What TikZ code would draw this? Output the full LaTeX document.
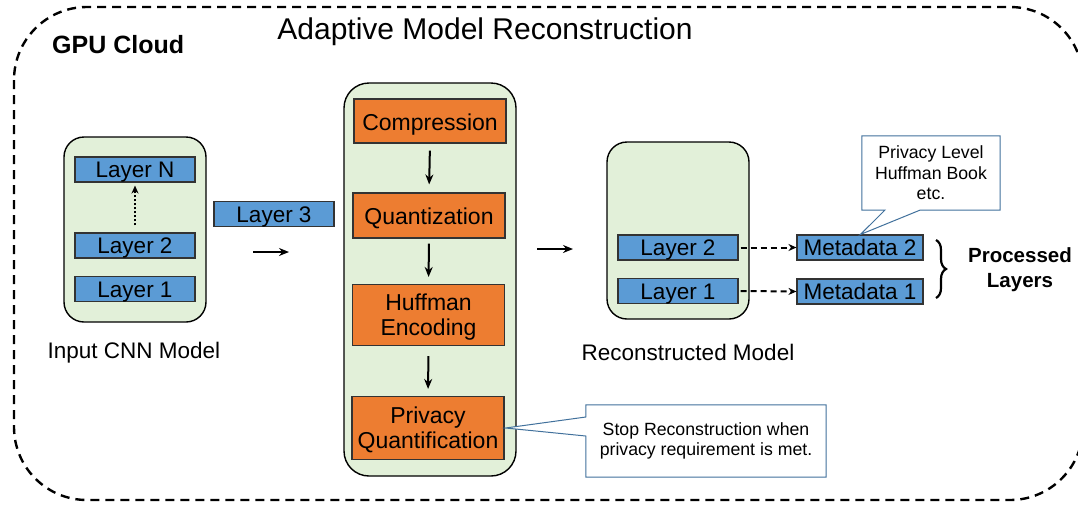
\documentclass[tikz,border=0pt]{standalone}
\usepackage{fontspec}
\setmainfont{Liberation Sans}
\usetikzlibrary{arrows.meta,decorations.pathreplacing,calc}
\definecolor{boxgreen}{HTML}{E2F0D9}
\definecolor{layerblue}{HTML}{5B9BD5}
\definecolor{steporange}{HTML}{ED7D31}
\definecolor{callblue}{HTML}{41719C}
\begin{document}
\begin{tikzpicture}[x=1pt,y=-1pt,
  container/.style={draw=black, line width=1.4pt, fill=boxgreen, rounded corners=20pt, inner sep=0pt},
  layer/.style={draw=black!80, line width=1.1pt, fill=layerblue, font=\fontsize{22.5}{26}\selectfont, inner sep=0pt, minimum height=25pt, text height=20pt, text depth=4pt},
  stepbox/.style={draw=black!80, line width=1.1pt, fill=steporange, font=\fontsize{23}{25}\selectfont, inner sep=0pt, minimum width=152pt, align=center},
  oneline/.style={text height=22pt, text depth=4pt},
  twoline/.style={text depth=0pt},
  calltext/.style={font=\fontsize{17.7}{20.5}\selectfont, align=center, inner sep=0pt},
  callshape/.style={draw=callblue, line width=1pt, fill=white},
  caption/.style={font=\fontsize{22.5}{27}\selectfont, inner sep=0pt},
  flow/.style={-{Stealth[length=10pt,width=8pt]}, line width=2pt},
  dasharrow/.style={-{Stealth[length=8pt,width=7pt]}, line width=2pt, dash pattern=on 6pt off 4pt},
]
\useasboundingbox (0,0) rectangle (1078,504);
\clip (0,0) rectangle (1078,504);
\fill[white] (0,0) rectangle (1078,504);

% outer dashed frame
\draw[line width=2.4pt, dash pattern=on 9pt off 6pt, rounded corners=73pt] (14,7) rectangle (1083,500);

\node[font=\fontsize{30}{36}\selectfont, inner sep=0pt] (title) at (485,32) {Adaptive Model Reconstruction};
\node[font=\bfseries\fontsize{25}{30}\selectfont, inner sep=0pt, anchor=west] (gpu) at (52,45) {GPU Cloud};

% input model
\node[container, minimum width=142pt, minimum height=185pt] (inbox) at (135,229.5) {};
\node[layer, minimum width=120pt] (lN) at (135,169.5) {Layer N};
\node[layer, minimum width=120pt] (l2) at (135,245.5) {Layer 2};
\node[layer, minimum width=120pt] (l1) at (135,289) {Layer 1};
\draw[-{Stealth[length=8pt,width=7pt]}, line width=2pt, dash pattern=on 2pt off 2pt, shorten <=7pt, shorten >=3pt] (l2.north) -- (lN.south);
\node[caption] (incap) at (134,353) {Input CNN Model};

\node[layer, minimum width=120pt] (l3) at (274,214) {Layer 3};
\coordinate (a1s) at (253,252);
\coordinate (a1e) at (289,252);
\draw[flow] (a1s) -- (a1e);

% processing pipeline
\node[container, rounded corners=25pt, minimum width=172pt, minimum height=393pt] (pbox) at (430,279.5) {};
\node[stepbox, oneline, minimum height=44pt] (comp) at (430,121) {Compression};
\node[stepbox, oneline, minimum height=45pt] (quant) at (429,215.5) {Quantization};
\node[stepbox, twoline, minimum height=61pt] (huff) at (428.5,315) {Huffman\\Encoding};
\node[stepbox, twoline, minimum height=63pt] (priv) at (428,428) {Privacy\\Quantification};
\draw[flow, shorten <=7pt, shorten >=8pt] (comp.south) -- (quant.north);
\draw[flow, shorten <=5pt, shorten >=7pt] (quant.south) -- (huff.north);
\draw[flow, shorten <=10pt, shorten >=7pt] (huff.south) -- (priv.north);

\coordinate (a2s) at (537,249);
\coordinate (a2e) at (573,249);
\draw[flow] (a2s) -- (a2e);

% reconstructed model
\node[container, minimum width=142pt, minimum height=177pt] (rbox) at (678,230.5) {};
\node[layer, minimum width=120pt] (r2) at (678,247.5) {Layer 2};
\node[layer, minimum width=120pt] (r1) at (678,291) {Layer 1};
\node[caption] (rcap) at (688,352) {Reconstructed Model};

\node[layer, minimum width=126pt] (m2) at (860,247.5) {Metadata 2};
\node[layer, minimum width=126pt] (m1) at (860,291.5) {Metadata 1};
\draw[dasharrow, shorten <=2pt] (r2.east) -- (m2.west);
\draw[dasharrow, shorten <=2pt] (r1.east) -- (m1.west);

\coordinate (bt) at (936,240);
\coordinate (bb) at (936,298);
\draw[line width=2.2pt, decorate, decoration={brace, amplitude=10pt}] (bt) -- (bb);
\node[font=\bfseries\fontsize{20.5}{25}\selectfont, align=center, inner sep=0pt] (proc) at (1020,270) {Processed\\Layers};

% top callout
\node[calltext, minimum width=138pt, minimum height=74pt] (ctop) at (931,173) {};
\draw[callshape] (ctop.north west) -- (ctop.north east) -- (ctop.south east)
  -- ($(ctop.south west)+(58,0)$) -- ($(m2.north west)+(64,0)$) -- ($(ctop.south west)+(23,0)$)
  -- (ctop.south west) -- cycle;
\node[calltext] at (ctop.center) {Privacy Level\\Huffman Book\\etc.};

% bottom callout
\node[calltext, minimum width=240pt, minimum height=72pt] (cbot) at (706,441) {};
\draw[callshape] (cbot.north west) -- (cbot.north east) -- (cbot.south east) -- (cbot.south west)
  -- ($(cbot.west)+(0,-5)$) -- ($(priv.east)+(1,0)$) -- ($(cbot.west)+(0,-24)$) -- cycle;
\node[calltext] at (cbot.center) {Stop Reconstruction when\\privacy requirement is met.};
\end{tikzpicture}
\end{document}
